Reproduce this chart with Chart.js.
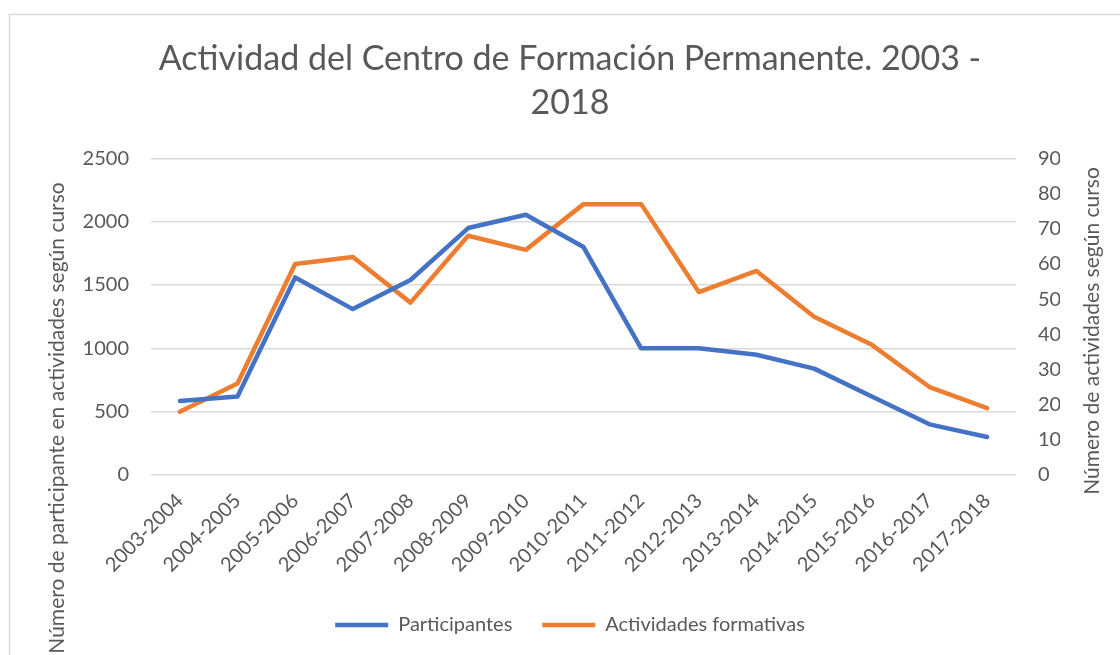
<!DOCTYPE html>
<html>
<head>
<meta charset="utf-8">
<script src="https://cdn.jsdelivr.net/npm/chart.js@4.4.1/dist/chart.umd.min.js"></script>
<style>
  html, body { margin: 0; padding: 0; background: #fff; }
  #wrap { width: 1120px; height: 655px; }
</style>
</head>
<body>
<div id="wrap"><canvas id="chart" width="1120" height="655"></canvas></div>
<script>
'use strict'

// datos
const cursos = ['2003-2004', '2004-2005', '2005-2006', '2006-2007', '2007-2008',
  '2008-2009', '2009-2010', '2010-2011', '2011-2012', '2012-2013',
  '2013-2014', '2014-2015', '2015-2016', '2016-2017', '2017-2018'];
const participantes = [585, 620, 1560, 1310, 1540, 1950, 2055, 1800, 1000, 1000, 950, 840, 620, 400, 300];
const actividades = [18, 26, 60, 62, 49, 68, 64, 77, 77, 52, 58, 45, 37, 25, 19];

const tituloIzq = 'Número de participante en actividades según curso';
const tituloDer = 'Número de actividades según curso';

const gris = '#595959';
const fuente = "Lato, 'Open Sans', sans-serif";

Chart.defaults.font.family = fuente;
Chart.defaults.color = gris;

// marco y títulos de los ejes (Excel los coloca donde quiere)
const extras = {
  id: 'extras',
  beforeDraw(chart) {
    const ctx = chart.ctx;
    ctx.save();
    ctx.strokeStyle = '#D9D9D9';
    ctx.lineWidth = 1.5;
    ctx.strokeRect(9.5, 14.5, 1200, 700);
    ctx.restore();
  },
  afterDraw(chart) {
    const ctx = chart.ctx;
    const titulo = (texto, x, y) => {
      ctx.save();
      ctx.fillStyle = gris;
      ctx.font = '21px ' + fuente;
      ctx.textAlign = 'center';
      ctx.textBaseline = 'middle';
      ctx.translate(x, y);
      ctx.rotate(-Math.PI / 2);
      ctx.fillText(texto, 0, 0);
      ctx.restore();
    };
    titulo(tituloIzq, 57, 418);
    titulo(tituloDer, 1092, 331);
  }
};

const ctx = document.getElementById('chart').getContext('2d');
const chart = new Chart(ctx, {
  type: 'line',
  data: {
    labels: cursos,
    datasets: [{
      label: 'Participantes',
      data: participantes,
      borderColor: '#4472C4',
      backgroundColor: '#4472C4',
      borderWidth: 4.5,
      pointRadius: 0,
      tension: 0,
      borderJoinStyle: 'round',
      borderCapStyle: 'round',
      yAxisID: 'y'
    }, {
      label: 'Actividades formativas',
      data: actividades,
      borderColor: '#ED7D31',
      backgroundColor: '#ED7D31',
      borderWidth: 4.5,
      pointRadius: 0,
      tension: 0,
      borderJoinStyle: 'round',
      borderCapStyle: 'round',
      yAxisID: 'y1'
    }]
  },
  options: {
    responsive: false,
    animation: false,
    layout: {
      padding: { left: 80, right: 60, top: 0, bottom: 10 }
    },
    plugins: {
      title: {
        display: true,
        text: ['Actividad del Centro de Formación Permanente. 2003 -', '2018'],
        color: gris,
        font: { size: 34, weight: 'normal', lineHeight: 1.3 },
        padding: { top: 37, bottom: 33 }
      },
      legend: {
        position: 'bottom',
        labels: {
          usePointStyle: true,
          pointStyle: 'line',
          pointStyleWidth: 53,
          color: gris,
          font: { size: 20 },
          padding: 30
        }
      },
      tooltip: { enabled: false }
    },
    scales: {
      x: {
        offset: true,
        grid: { display: false },
        border: { display: false },
        ticks: {
          color: gris,
          font: { size: 20 },
          minRotation: 45,
          maxRotation: 45,
          padding: 6
        },
        afterFit(scale) { scale.height = 110; }
      },
      y: {
        position: 'left',
        min: 0,
        max: 2500,
        grid: { color: '#D9D9D9', lineWidth: 1.5, drawTicks: false },
        border: { display: false },
        ticks: {
          stepSize: 500, color: gris, font: { size: 20 }, padding: 22,
          callback: (v) => String(v)
        },
        afterFit(scale) { scale.width = 71; }
      },
      y1: {
        position: 'right',
        min: 0,
        max: 90,
        grid: { display: false, drawTicks: false },
        border: { display: false },
        ticks: {
          stepSize: 10, color: gris, font: { size: 20 }, padding: 22,
          callback: (v) => String(v)
        },
        afterFit(scale) { scale.width = 44; }
      }
    }
  },
  plugins: [extras]
});
</script>
</body>
</html>
